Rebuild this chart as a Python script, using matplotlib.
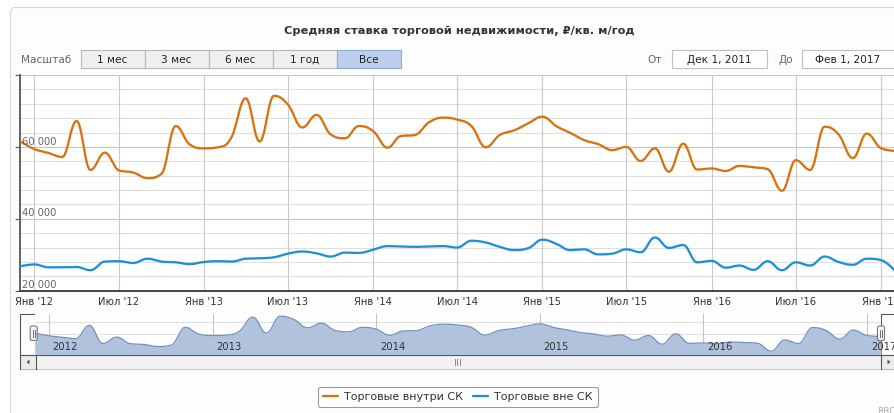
import numpy as np
import pandas as pd
import matplotlib
matplotlib.use("Agg")
import matplotlib.pyplot as plt
import matplotlib.dates as mdates
import matplotlib.transforms as mtransforms
from matplotlib.patches import FancyBboxPatch, Rectangle, Polygon

# ---------------- data ----------------
months = pd.date_range("2011-12-01", "2017-02-01", freq="MS")

inside_sc = [
    61600,
    59400, 58300, 57200, 67200, 53600, 58400, 53500, 52900, 51300, 52500, 65800, 60700,
    59600, 59900, 62600, 73500, 61500, 74200, 71800, 65400, 68900, 63500, 62400, 65800,
    64400, 59800, 63000, 63300, 66800, 68150, 67600, 65800, 59900, 63300, 64600, 66500,
    68400, 65700, 64000, 61900, 60800, 59100, 60000, 56100, 59600, 53100, 60900, 53700,
    54000, 53300, 54700, 54300, 53800, 47800, 56300, 53600, 65600, 63500, 56900, 63700,
    59600, 58900,
]
outside_sc = [
    26800,
    27300, 26500, 26500, 26600, 25700, 28100, 28200, 27700, 28900, 28100, 27900, 27400,
    28000, 28200, 28100, 28900, 29000, 29300, 30300, 30900, 30400, 29500, 30600, 30500,
    31400, 32400, 32300, 32200, 32300, 32400, 32000, 33900, 33400, 32200, 31300, 31800,
    34200, 33000, 31300, 31500, 30100, 30300, 31500, 30700, 34800, 31900, 32700, 27900,
    28300, 26400, 27000, 25800, 28200, 25700, 27900, 27000, 29500, 28000, 27200, 28900,
    28500, 25400,
]
series_names = ["Торговые внутри СК", "Торговые вне СК"]
series_colors = ["#d8720f", "#1f8fd6"]

title = "Средняя ставка торговой недвижимости, ₽/кв. м/год"
range_buttons = ["1 мес", "3 мес", "6 мес", "1 год", "Все"]
selected_button = "Все"
date_from = "Дек 1, 2011"
date_to = "Фев 1, 2017"

x_tick_dates = pd.date_range("2012-01-01", "2017-01-01", freq="6MS")
x_tick_labels = ["Янв '12", "Июл '12", "Янв '13", "Июл '13", "Янв '14", "Июл '14",
                 "Янв '15", "Июл '15", "Янв '16", "Июл '16", "Янв '17"]
y_ticks = [20000, 40000, 60000, 80000]
y_tick_labels = ["20 000", "40 000", "60 000", ""]
nav_years = pd.date_range("2012-01-01", "2017-01-01", freq="YS")
nav_year_labels = ["2012", "2013", "2014", "2015", "2016", "2017"]

# ---------------- helpers ----------------
W, H, DPI = 894, 414, 100


def rect(x, y, w, h):
    return [x / W, 1 - (y + h) / H, w / W, h / H]


def hc_spline(x, y, n=24):
    """Highcharts-style spline (smoothing 1.5) evaluated as cubic Beziers."""
    x = np.asarray(x, float)
    y = np.asarray(y, float)
    N = len(x)
    lcx, lcy, rcx, rcy = x.copy(), y.copy(), x.copy(), y.copy()
    s, d = 1.5, 2.5
    for i in range(1, N - 1):
        px, py = x[i], y[i]
        lx, ly = x[i - 1], y[i - 1]
        nx, ny = x[i + 1], y[i + 1]
        lX, lY = (s * px + lx) / d, (s * py + ly) / d
        rX, rY = (s * px + nx) / d, (s * py + ny) / d
        corr = ((rY - lY) * (rX - px)) / (rX - lX) + py - rY
        lY += corr
        rY += corr
        if lY > ly and lY > py:
            lY = max(ly, py); rY = 2 * py - lY
        elif lY < ly and lY < py:
            lY = min(ly, py); rY = 2 * py - lY
        if rY > ny and rY > py:
            rY = max(ny, py); lY = 2 * py - rY
        elif rY < ny and rY < py:
            rY = min(ny, py); lY = 2 * py - rY
        lcx[i], lcy[i], rcx[i], rcy[i] = lX, lY, rX, rY
    t = np.linspace(0, 1, n)
    xs, ys = [], []
    for i in range(1, N):
        P0 = (x[i - 1], y[i - 1]); P1 = (rcx[i - 1], rcy[i - 1])
        P2 = (lcx[i], lcy[i]); P3 = (x[i], y[i])
        b0 = (1 - t) ** 3; b1 = 3 * (1 - t) ** 2 * t; b2 = 3 * (1 - t) * t ** 2; b3 = t ** 3
        xs.append(b0 * P0[0] + b1 * P1[0] + b2 * P2[0] + b3 * P3[0])
        ys.append(b0 * P0[1] + b1 * P1[1] + b2 * P2[1] + b3 * P3[1])
    return np.concatenate(xs), np.concatenate(ys)


xnum = mdates.date2num(months.to_pydatetime())
x_lo, x_hi = xnum[0], xnum[-1]

fig = plt.figure(figsize=(W / DPI, H / DPI), dpi=DPI)
fig.patch.set_facecolor("white")

# ---------------- background / chrome ----------------
bg = fig.add_axes([0, 0, 1, 1], zorder=0)
bg.set_xlim(0, W)
bg.set_ylim(H, 0)
bg.axis("off")

bg.add_patch(FancyBboxPatch((10.5, 8.5), W + 20, H, boxstyle="round,pad=0,rounding_size=5",
                            fc="#fdfdfd", ec="#d8d8d8", lw=0.8))

bg.text(459, 31, title, ha="center", va="center", fontsize=8.2, fontweight="bold", color="#333333")

bg.text(21, 60, "Масштаб", ha="left", va="center", fontsize=7.6, color="#666666")
bx0, bw = 80.5, 64
for i, lab in enumerate(range_buttons):
    sel = lab == selected_button
    bg.add_patch(Rectangle((bx0 + i * bw, 50.5), bw, 18.5,
                           fc="#bcd0ee" if sel else "#efefef",
                           ec="#8eaad6" if sel else "#b8b8b8", lw=0.8, zorder=2 if sel else 1))
    bg.text(bx0 + i * bw + bw / 2, 60, lab, ha="center", va="center", fontsize=7.6, color="#222222",
            zorder=3)

bg.text(655, 60, "От", ha="center", va="center", fontsize=7.6, color="#666666")
bg.add_patch(Rectangle((671.5, 50.5), 95, 18.5, fc="white", ec="#c0c0c0", lw=0.8))
bg.text(719, 60, date_from, ha="center", va="center", fontsize=7.6, color="#222222")
bg.text(786, 60, "До", ha="center", va="center", fontsize=7.6, color="#666666")
bg.add_patch(Rectangle((801.5, 50.5), 110, 18.5, fc="white", ec="#c0c0c0", lw=0.8))
bg.text(848, 60, date_to, ha="center", va="center", fontsize=7.6, color="#222222")

# scrollbar
bg.add_patch(Rectangle((20, 355.5), W, 14.5, fc="#ececec", ec="#b8b8b8", lw=0.8))
bg.add_patch(Rectangle((35.5, 356), 845.5, 13.5, fc="#f2f2f2", ec="#c0c0c0", lw=0.6))
for gx in (454.5, 457, 459.5):
    bg.plot([gx, gx], [360, 366], color="#888888", lw=0.7)
bg.add_patch(Polygon([[29.5, 360.5], [29.5, 365.5], [26.5, 363]], closed=True, fc="#555555", ec="none"))
bg.add_patch(Polygon([[887.5, 360.5], [887.5, 365.5], [890.5, 363]], closed=True, fc="#555555", ec="none"))

# navigator outline boxes
for x0, x1 in ((20, 35.5), (881, 896)):
    bg.plot([x0, x0, x1, x1], [370, 314.5, 314.5, 370], color="#555555", lw=0.8, zorder=5)
bg.plot([20, W], [355.5, 355.5], color="#555555", lw=0.8, zorder=5)

# ---------------- main plot ----------------
ax = fig.add_axes(rect(20, 76, 875.5, 215.7), zorder=2)
ax.set_facecolor("white")
ax.set_xlim(x_lo, x_hi)
ax.set_ylim(20000, 80000)

for v in range(20000, 80001, 4000):
    major = v % 20000 == 0
    ax.axhline(v, color="#c4c4c4" if major else "#dedede", lw=0.8, zorder=0)
for dt in x_tick_dates:
    ax.axvline(mdates.date2num(dt.to_pydatetime()), color="#cacaca", lw=0.8, zorder=0)

lines = []
for vals, name, col in zip((inside_sc, outside_sc), series_names, series_colors):
    sx, sy = hc_spline(xnum, vals)
    ln, = ax.plot(sx, sy, color=col, lw=1.65, label=name, solid_capstyle="round", zorder=3)
    lines.append(ln)

ax.set_yticks(y_ticks)
ax.set_yticklabels([])
ax.tick_params(axis="y", direction="out", length=3.6, width=0.8, color="#555555")
lab_tr = mtransforms.offset_copy(ax.get_yaxis_transform(), fig=fig, x=2, y=6.3, units="dots")
for v, t in zip(y_ticks, y_tick_labels):
    if t:
        ax.text(0, v, t, transform=lab_tr, ha="left", va="center", fontsize=7.2, color="#666666",
                zorder=4)

ax.set_xticks(mdates.date2num(x_tick_dates.to_pydatetime()))
ax.set_xticklabels(x_tick_labels, fontsize=7.2, color="#333333")
ax.tick_params(axis="x", length=0, pad=4)

for sp in ("top", "right"):
    ax.spines[sp].set_visible(False)
ax.spines["left"].set_color("#555555")
ax.spines["left"].set_linewidth(1.3)
ax.spines["bottom"].set_color("#444444")
ax.spines["bottom"].set_linewidth(1.4)

# ---------------- navigator ----------------
nav = fig.add_axes(rect(34.7, 314.5, 846.3, 41), zorder=1)
nav.set_facecolor("white")
nav.set_xlim(x_lo, x_hi)
nav.set_ylim(45300, 76200)
for frac in (0.215, 0.5):
    nav.plot([0, 1], [1 - frac, 1 - frac], transform=nav.transAxes, color="#e0e0e0", lw=0.8, zorder=0)
nav_tr = mtransforms.offset_copy(nav.get_xaxis_transform(), fig=fig, x=4, y=0, units="dots")
for dt, lab in zip(nav_years, nav_year_labels):
    xv = mdates.date2num(dt.to_pydatetime())
    nav.axvline(xv, color="#c6c6c6", lw=0.8, zorder=0)
    nav.text(xv, 0.2, lab, transform=nav_tr, ha="left", va="center", fontsize=7.2, color="#333333",
             zorder=4, clip_on=False)
nx_, ny_ = hc_spline(xnum, inside_sc)
nav.fill_between(nx_, ny_, 45300, color="#b1c2dc", lw=0, zorder=1)
nav.plot(nx_, ny_, color="#7190c0", lw=0.9, zorder=2)
nav.set_xticks([])
nav.set_yticks([])
for sp in nav.spines.values():
    sp.set_visible(False)

# handles on top
top = fig.add_axes([0, 0, 1, 1], zorder=6)
top.set_xlim(0, W)
top.set_ylim(H, 0)
top.axis("off")
top.patch.set_alpha(0)
for hx in (33.7, 881):
    top.add_patch(FancyBboxPatch((hx - 3.5, 327), 7, 14.5, boxstyle="round,pad=0,rounding_size=2",
                                 fc="#f6f6f6", ec="#777777", lw=0.8))
    top.plot([hx - 1, hx - 1], [330.5, 338], color="#555555", lw=0.6)
    top.plot([hx + 1, hx + 1], [330.5, 338], color="#555555", lw=0.6)
top.text(877, 416, "RRC", ha="left", va="bottom", fontsize=6.5, color="#b0b0b0")

# ---------------- legend ----------------
leg = fig.legend(handles=lines, labels=series_names, loc="center",
                 bbox_to_anchor=(458 / W, 1 - 397.5 / H), ncol=2, fontsize=8,
                 frameon=True, fancybox=True, edgecolor="#999999", facecolor="white",
                 handlelength=1.3, handletextpad=0.6, columnspacing=0.9, borderpad=0.45,
                 framealpha=1)
leg.get_frame().set_linewidth(0.8)
for t in leg.get_texts():
    t.set_color("#333333")

fig.savefig("out.png", dpi=DPI)
